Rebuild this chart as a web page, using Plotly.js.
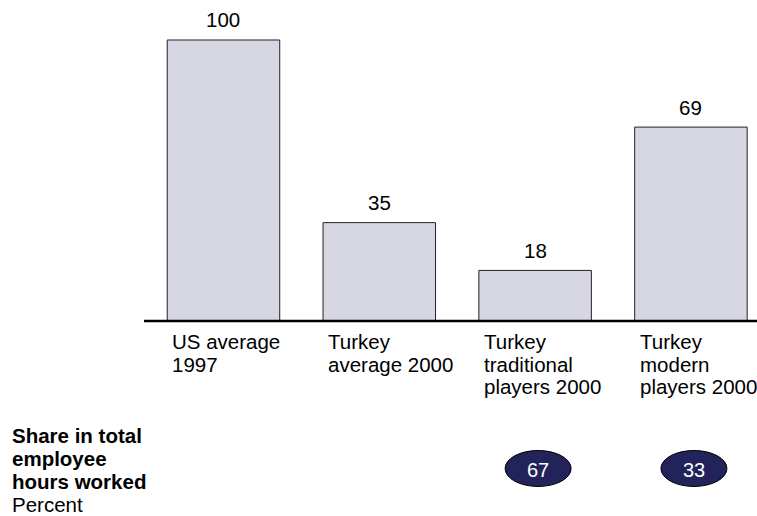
<!DOCTYPE html>
<html>
<head>
<meta charset="utf-8">
<script src="https://cdn.plot.ly/plotly-3.0.1.min.js"></script>
<style>
html,body{margin:0;padding:0;background:#fff;}
#chart{width:757px;height:516px;}
</style>
</head>
<body>
<div id="chart"></div>
<script>
// ---- data ----
const categories = ["US average 1997", "Turkey average 2000", "Turkey traditional players 2000", "Turkey modern players 2000"];
const labelLines = [
  ["US average", "1997"],
  ["Turkey", "average 2000"],
  ["Turkey", "traditional", "players 2000"],
  ["Turkey", "modern", "players 2000"]
];
const values = [100, 35, 18, 69];
const shareValues = [null, null, 67, 33];
const sideLabelBold = ["Share in total", "employee", "hours worked"];
const sideLabelUnit = "Percent";

// ---- style ----
const FONT = "Arial, 'Liberation Sans', sans-serif";
const FS = 20.5;
const barColor = "#d7d7e3";
const navy = "#23235b";
const barWidth = 0.722;
const idx = categories.map((_, i) => i);

const annotations = [];
// value labels above bars
values.forEach((v, i) => {
  annotations.push({
    x: i, y: v, xref: "x", yref: "y", text: String(v), showarrow: false,
    xanchor: "center", yanchor: "middle", yshift: 20,
    font: {family: FONT, size: FS, color: "#000"}
  });
});
// category labels (left aligned at bar left edge)
labelLines.forEach((lines, i) => {
  lines.forEach((ln, j) => {
    annotations.push({
      x: i - barWidth / 2, y: 0, xref: "x", yref: "y", text: ln, showarrow: false,
      xanchor: "left", yanchor: "middle", xshift: 3, yshift: -20.5 - j * 22.6,
      align: "left", font: {family: FONT, size: FS, color: "#000"}
    });
  });
});
// side label
sideLabelBold.concat([sideLabelUnit]).forEach((ln, j) => {
  annotations.push({
    x: 0, y: 0, xref: "paper", yref: "y", text: j < 3 ? "<b>" + ln + "</b>" : ln,
    showarrow: false, xanchor: "left", yanchor: "middle",
    xshift: -134, yshift: -115 - j * 22.7,
    align: "left", font: {family: FONT, size: FS, color: "#000"}
  });
});
// share bubbles
const shapes = [];
shareValues.forEach((s, i) => {
  if (s === null) return;
  shapes.push({
    type: "circle", xref: "x", yref: "y",
    xsizemode: "pixel", ysizemode: "pixel",
    xanchor: i, yanchor: 0,
    x0: -30, x1: 36, y0: -129.5, y1: -165.5,
    fillcolor: navy, line: {color: "#000", width: 1}, layer: "above"
  });
  annotations.push({
    x: i, y: 0, xref: "x", yref: "y", text: String(s), showarrow: false,
    xanchor: "center", yanchor: "middle", xshift: 3, yshift: -149,
    font: {family: FONT, size: 20, color: "#fff"}
  });
});
// baseline
shapes.push({
  type: "line", xref: "paper", yref: "y", x0: 0, x1: 1, y0: 0, y1: 0,
  line: {color: "#000", width: 2.5}, layer: "above"
});

const trace = {
  type: "bar",
  x: idx,
  y: values,
  width: barWidth,
  marker: {color: barColor, line: {color: "#222", width: 1}},
  hoverinfo: "skip"
};

const layout = {
  width: 757, height: 516,
  margin: {l: 144, r: 0, t: 0, b: 0, pad: 0},
  paper_bgcolor: "#fff", plot_bgcolor: "#fff",
  showlegend: false,
  xaxis: {range: [-0.510, 3.424], showgrid: false, zeroline: false, showticklabels: false, showline: false, ticks: "", fixedrange: true},
  yaxis: {range: [-69.4, 114.23], showgrid: false, zeroline: false, showticklabels: false, showline: false, ticks: "", fixedrange: true},
  annotations: annotations,
  shapes: shapes,
  font: {family: FONT}
};

Plotly.newPlot("chart", [trace], layout, {displayModeBar: false, staticPlot: true});
</script>
</body>
</html>
